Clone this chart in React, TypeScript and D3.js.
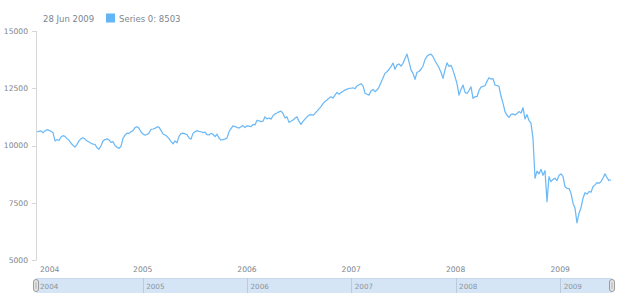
import React from "react";
import * as d3 from "d3";

// Weekly closes, last point dated 28 Jun 2009
const LAST_DATE = new Date(2009, 5, 28);
const values: number[] = [
  10600, 10620, 10640, 10560, 10640, 10690, 10660, 10620, 10560, 10200,
  10260, 10220, 10370, 10430, 10400, 10300, 10230, 10100, 10010, 9930,
  10050, 10200, 10300, 10340, 10280, 10200, 10150, 10100, 10060, 10050,
  9900, 9840, 9990, 10200, 10260, 10290, 10250, 10140, 10170, 10000,
  9920, 9880, 9960, 10310, 10450, 10540, 10530, 10600, 10650, 10780,
  10820, 10750, 10600, 10500, 10450, 10480, 10550, 10700, 10720, 10750,
  10810, 10800, 10660, 10500, 10460, 10400, 10300, 10180, 10070, 10200,
  10120, 10400, 10520, 10540, 10510, 10470, 10330, 10280, 10530, 10600,
  10650, 10620, 10600, 10560, 10580, 10470, 10460, 10530, 10490, 10390,
  10490, 10330, 10240, 10260, 10280, 10330, 10600, 10740, 10860, 10830,
  10790, 10760, 10820, 10870, 10780, 10860, 10850, 10820, 10920, 10900,
  11100, 11080, 11040, 11060, 11250, 11160, 11200, 11150, 11300, 11380,
  11420, 11470, 11500, 11400, 11200, 11250, 11010, 11060, 11110, 11200,
  11250, 11050, 10920, 11050, 11150, 11250, 11330, 11350, 11320, 11400,
  11500, 11600, 11700, 11830, 11920, 11990, 12070, 12130, 12070, 12200,
  12320, 12240, 12300, 12370, 12420, 12460, 12490, 12500, 12520, 12480,
  12600, 12650, 12700, 12600, 12280, 12240, 12200, 12380, 12450, 12350,
  12420, 12550, 12750, 12950, 13150, 13220, 13320, 13440, 13600, 13330,
  13520, 13560, 13470, 13590, 13800, 13990, 13650, 13300, 13150, 12890,
  13200, 13230, 13330, 13470, 13750, 13900, 13960, 13990, 13880, 13700,
  13550, 13400, 13200, 12930, 13300, 13610, 13450, 13500, 13280, 13000,
  12700, 12200, 12450, 12640, 12330, 12270, 12400, 12560, 12060, 12130,
  12130, 12400, 12550, 12580, 12610, 12800, 12960, 12900, 12920, 12640,
  12620, 12580, 12150, 11850, 11480, 11320, 11230, 11360, 11380, 11330,
  11400, 11480, 11420, 11650, 11160, 11350, 11090, 10980, 10300, 8570,
  8880, 8760, 8960, 8700, 8900, 7550, 8640, 8420, 8520, 8570,
  8470, 8700, 8760, 8650, 8200, 8130, 8120, 7910, 7480, 7260,
  6620, 7040, 7280, 7700, 7940, 7880, 7990, 7960, 8200, 8280,
  8380, 8350, 8420, 8580, 8760, 8600, 8470, 8503,
];
const yTicks = [5000, 7500, 10000, 12500, 15000];
const years = [2004, 2005, 2006, 2007, 2008, 2009];
const seriesName = "Series 0";

const FONT = "'DejaVu Sans', Verdana, sans-serif";
const TEXT = "#7c868e";
const LINE = "#64b5f6";

export default function App() {
  const n = values.length;
  const dates = values.map((_, i) => d3.timeWeek.offset(LAST_DATE, i - (n - 1)));
  const data = dates.map((d, i) => ({ d, v: values[i] }));

  const left = 37, right = 611, top = 31, bottom = 260;
  const x = d3.scaleTime().domain([dates[0], LAST_DATE]).range([left, right]);
  const y = d3.scaleLinear().domain([5000, 15000]).range([bottom, top]);

  const line = d3
    .line<{ d: Date; v: number }>()
    .x((p) => x(p.d))
    .y((p) => y(p.v));

  const fmt = d3.timeFormat("%d %b %Y");
  const last = data[n - 1];

  const scrTop = 278, scrH = 15;

  return (
    <svg
      width={620}
      height={300}
      style={{ position: "absolute", left: 0, top: 0, fontFamily: FONT }}
    >
      <rect width={620} height={300} fill="#fff" />
      {/* legend header */}
      <text x={43} y={21.5} fontSize={8.5} fill={TEXT}>
        {fmt(last.d)}
      </text>
      <rect x={106} y={13.5} width={9} height={9} fill={LINE} />
      <text x={119} y={21.5} fontSize={8.5} fill={TEXT}>
        {`${seriesName}: ${last.v}`}
      </text>

      {/* y axis */}
      <line x1={36.5} x2={36.5} y1={top} y2={bottom} stroke="#d6d6d6" />
      {yTicks.map((t) => (
        <g key={t}>
          <line x1={32} x2={36.5} y1={Math.round(y(t)) + 0.5} y2={Math.round(y(t)) + 0.5} stroke="#d6d6d6" />
          <text x={28} y={y(t) + 2.8} fontSize={7.6} fill={TEXT} textAnchor="end">
            {t}
          </text>
        </g>
      ))}

      {/* x axis labels */}
      {years.map((yr) => {
        const xp = x(new Date(yr, 0, 1));
        const clamp = xp - 10 < left;
        return (
          <text
            key={yr}
            x={clamp ? 40 : xp}
            y={272}
            fontSize={7.6}
            fill={TEXT}
            textAnchor={clamp ? "start" : "middle"}
          >
            {yr}
          </text>
        );
      })}

      {/* series line */}
      <path d={line(data) || ""} fill="none" stroke="#6cb9f7" strokeWidth={1.25} strokeLinejoin="round" />

      {/* scroller */}
      <rect x={36} y={scrTop} width={576} height={scrH} fill="#d6e5f6" />
      <line x1={36} x2={612} y1={scrTop + 0.5} y2={scrTop + 0.5} stroke="#c8d8ec" />
      {years.map((yr) => {
        const xp = x(new Date(yr, 0, 1));
        const first = xp < left + 2;
        return (
          <g key={yr}>
            {!first && (
              <line x1={Math.round(xp) + 0.5} x2={Math.round(xp) + 0.5} y1={scrTop} y2={scrTop + scrH} stroke="#bccbdc" />
            )}
            <text x={first ? 40 : xp + 3.5} y={288.5} fontSize={7.2} fill="#8a949b">
              {yr}
            </text>
          </g>
        );
      })}
      {[33.5, 609.5].map((hx) => (
        <g key={hx}>
          <rect x={hx} y={279.5} width={5} height={12} rx={2.5} fill="#e6e6e6" stroke="#9a9a9a" />
          <line x1={hx + 2.5} x2={hx + 2.5} y1={282} y2={289} stroke="#b0b0b0" />
        </g>
      ))}
    </svg>
  );
}
